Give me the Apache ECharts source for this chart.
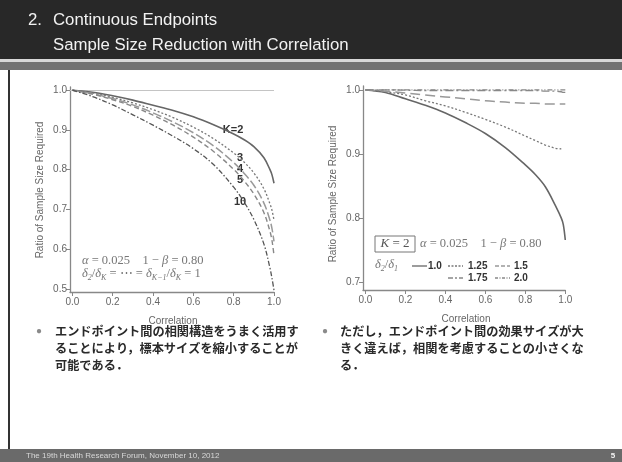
<!DOCTYPE html>
<html><head><meta charset="utf-8">
<script src="https://cdn.jsdelivr.net/npm/echarts@6/dist/echarts.min.js"></script>
<style>html,body{margin:0;padding:0;background:#fff}#c{width:622px;height:462px}</style>
</head><body><div id="c"></div>
<script>
// ---- Left chart: ratio of sample size vs correlation, by number of endpoints K
const corrLeft = [0, 0.1, 0.2, 0.3, 0.4, 0.5, 0.6, 0.7, 0.8, 0.85, 0.9, 0.95, 0.98, 0.99, 1.0];
const kNames = ['K=2', '3', '4', '5', '10'];
const k2  = [1, 0.995, 0.986, 0.975, 0.962, 0.949, 0.933, 0.913, 0.890, 0.876, 0.858, 0.830, 0.800, 0.787, 0.766];
const k3  = [1, 0.993, 0.982, 0.968, 0.951, 0.931, 0.907, 0.878, 0.842, 0.820, 0.792, 0.752, 0.714, 0.698, 0.673];
const k4  = [1, 0.991, 0.979, 0.963, 0.943, 0.920, 0.893, 0.860, 0.818, 0.792, 0.761, 0.716, 0.673, 0.652, 0.620];
const k5  = [1, 0.990, 0.976, 0.959, 0.937, 0.912, 0.882, 0.846, 0.801, 0.773, 0.739, 0.692, 0.645, 0.622, 0.585];
const k10 = [1, 0.984, 0.963, 0.938, 0.912, 0.884, 0.853, 0.813, 0.756, 0.720, 0.675, 0.613, 0.553, 0.527, 0.497];

// ---- Right chart: K=2, by effect size ratio delta2/delta1
const corrRight = [0, 0.1, 0.2, 0.3, 0.4, 0.5, 0.6, 0.7, 0.8, 0.85, 0.9, 0.95, 0.98, 0.99, 1.0];
const ratioNames = ['1.0', '1.25', '1.5', '1.75', '2.0'];
const d100 = [1, 0.996, 0.986, 0.976, 0.964, 0.949, 0.932, 0.910, 0.883, 0.868, 0.849, 0.820, 0.800, 0.790, 0.766];
const d125 = [1, 0.997, 0.992, 0.983, 0.975, 0.965, 0.954, 0.942, 0.928, 0.921, 0.914, 0.909, 0.908, null, null];
const d150 = [1, 0.998, 0.995, 0.992, 0.989, 0.986, 0.983, 0.981, 0.979, 0.979, 0.978, 0.978, 0.978, 0.978, 0.978];
const d175 = [1, 1, 0.9995, 0.999, 0.999, 0.999, 0.999, 0.999, 0.999, 0.999, 0.998, 0.998, 0.997, 0.996, 0.996];
const d200 = [1, 1, 1, 1, 1, 1, 1, 1, 1, 1, 1, 1, 1, 1, 1];

const xTicks = [0, 0.2, 0.4, 0.6, 0.8, 1.0];
const yTicksLeft = [0.5, 0.6, 0.7, 0.8, 0.9, 1.0];
const yTicksRight = [0.7, 0.8, 0.9, 1.0];

const leftSeries = [k2, k3, k4, k5, k10];
const rightSeries = [d100, d125, d150, d175, d200];

const leftStyles = [
  {color:'#666', width:1.6, type:'solid'},
  {color:'#777', width:1.3, type:[2,2]},
  {color:'#999', width:1.5, type:[9,3]},
  {color:'#888', width:1.4, type:[5,3]},
  {color:'#555', width:1.3, type:[5,2,1.5,2]}
];
const rightStyles = [
  {color:'#666', width:1.6, type:'solid'},
  {color:'#777', width:1.3, type:[2,2]},
  {color:'#999', width:1.5, type:[10,5]},
  {color:'#888', width:1.4, type:[8,3,2,3]},
  {color:'#888', width:1.4, type:[5,2,1,2,1,2]}
];
const legendDash = [null, [2,1.5], [4,2], [5,2,2,2], [3,1.5,1,1.5]];

function zip(xs, ys){ return xs.map((x,i)=>[x, ys[i]]); }

const axisCommon = {
  type:'value',
  axisLine:{show:true, onZero:false, lineStyle:{color:'#888', width:1.3}},
  axisTick:{show:true, length:4, lineStyle:{color:'#888'}},
  splitLine:{show:false},
  axisLabel:{color:'#666', fontSize:10, fontFamily:'"Liberation Sans", Arial', margin:3,
             formatter:v=>v.toFixed(1)}
};

function xAxis(gi){
  return Object.assign({}, axisCommon, {
    gridIndex:gi, min:-0.012, max:1.0,
    axisTick:Object.assign({}, axisCommon.axisTick, {customValues:xTicks}),
    axisLabel:Object.assign({}, axisCommon.axisLabel, {customValues:xTicks, margin:5})
  });
}
function yAxis(gi, min, max, ticks){
  return Object.assign({}, axisCommon, {
    gridIndex:gi, min:min, max:max,
    axisTick:Object.assign({}, axisCommon.axisTick, {customValues:ticks}),
    axisLabel:Object.assign({}, axisCommon.axisLabel, {customValues:ticks})
  });
}

const series = [];
leftSeries.forEach((d,i)=>{
  const s = {type:'line', name:kNames[i], xAxisIndex:0, yAxisIndex:0, data:zip(corrLeft,d),
    showSymbol:false, smooth:0.35, lineStyle:leftStyles[i], z:3};
  if(i===0){
    s.markLine = {silent:true, symbol:'none', label:{show:false},
      lineStyle:{color:'#c4c4c4', type:'solid', width:1}, data:[{yAxis:1}], z:1};
  }
  series.push(s);
});
rightSeries.forEach((d,i)=>{
  series.push({type:'line', name:ratioNames[i], xAxisIndex:1, yAxisIndex:1, data:zip(corrRight,d),
    showSymbol:false, smooth:0.35, connectNulls:false, lineStyle:rightStyles[i], z:3});
});

const sans = '"Liberation Sans", Arial, sans-serif';
const serif = '"Liberation Serif", "DejaVu Serif", serif';
const jp = '"Noto Sans CJK JP", sans-serif';

function txt(x,y,text,font,fill,align,extra){
  return Object.assign({type:'text', x:x, y:y, style:{text:text, font:font, fill:fill,
    align:align||'left', verticalAlign:'middle'}}, extra||{});
}

const mathRich = {
  g:{fontFamily:serif, fontStyle:'italic', fontSize:12.5, fill:'#777'},
  t:{fontFamily:serif, fontSize:12.5, fill:'#777'},
  s:{fontFamily:serif, fontStyle:'italic', fontSize:8, fill:'#777', padding:[7,0,0,0]}
};

const graphic = [
  // header
  {type:'rect', shape:{x:0,y:0,width:622,height:59}, style:{fill:'#282828'}},
  {type:'rect', shape:{x:0,y:59,width:622,height:3}, style:{fill:'#d8d8d8'}},
  {type:'rect', shape:{x:0,y:62,width:622,height:8}, style:{fill:'#727272'}},
  {type:'rect', shape:{x:8,y:70,width:2,height:380}, style:{fill:'#333'}},
  // footer
  {type:'rect', shape:{x:0,y:449,width:622,height:13}, style:{fill:'#6a6a6a'}},
  txt(26,456,'The 19th Health Research Forum, November 10, 2012','8px '+sans,'#d8d8d8'),
  txt(613,456,'5','bold 8px '+sans,'#f4f4f4','center'),
  // titles
  txt(28,20,'2.','16.8px '+sans,'#f2f2f2'),
  txt(53,20,'Continuous Endpoints','16.8px '+sans,'#f2f2f2'),
  txt(53,45,'Sample Size Reduction with Correlation','16.8px '+sans,'#f2f2f2'),
  // axis titles
  txt(40,190,'Ratio of Sample Size Required','10px '+sans,'#666','center',{rotation:Math.PI/2}),
  txt(333,194,'Ratio of Sample Size Required','10px '+sans,'#666','center',{rotation:Math.PI/2}),
  txt(173,321,'Correlation','10px '+sans,'#666','center'),
  txt(466,319,'Correlation','10px '+sans,'#666','center'),
  // curve labels
  txt(233,130,'K=2','bold 11px '+sans,'#333','center'),
  txt(240,158,'3','bold 11px '+sans,'#333','center'),
  txt(240,169,'4','bold 11px '+sans,'#333','center'),
  txt(240,180,'5','bold 11px '+sans,'#333','center'),
  txt(240,202,'10','bold 11px '+sans,'#333','center'),
  // left math annotation
  {type:'text', x:82, y:261, style:{text:'{g|α}{t| = 0.025    1 − }{g|β}{t| = 0.80}', rich:mathRich, verticalAlign:'middle'}},
  {type:'text', x:82, y:274, style:{text:'{g|δ}{s|2}{t|/}{g|δ}{s|K}{t| = ⋯ = }{g|δ}{s|K−1}{t|/}{g|δ}{s|K}{t| = 1}', rich:mathRich, verticalAlign:'middle'}},
  // right annotation
  {type:'rect', shape:{x:375,y:236,width:40,height:16}, style:{fill:'none', stroke:'#777', lineWidth:1}},
  {type:'text', x:395, y:244, style:{text:'{g|K}{t| = 2}', rich:{g:{fontFamily:serif,fontStyle:'italic',fontSize:13,fill:'#555'},t:{fontFamily:serif,fontSize:13,fill:'#555'}}, align:'center', verticalAlign:'middle'}},
  {type:'text', x:420, y:244, style:{text:'{g|α}{t| = 0.025    1 − }{g|β}{t| = 0.80}', rich:mathRich, verticalAlign:'middle'}},
  {type:'text', x:375, y:265, style:{text:'{g|δ}{s|2}{t|/}{g|δ}{s|1}', rich:mathRich, verticalAlign:'middle'}}
];

// right legend (line samples + labels)
const legPos = [[412,266,428],[448,266,468],[495,266,514],[448,278,468],[495,278,514]];
legPos.forEach((p,i)=>{
  graphic.push({type:'line', shape:{x1:p[0], y1:p[1], x2:p[0]+15, y2:p[1]},
    style:{stroke:rightStyles[i].color, lineWidth:1.3, lineDash:legendDash[i]}});
  graphic.push(txt(p[2], p[1], ratioNames[i], 'bold 10px '+sans, '#333'));
});

// bullets
const bulletLeft = ['エンドポイント間の相関構造をうまく活用す','ることにより，標本サイズを縮小することが','可能である．'];
const bulletRight = ['ただし，エンドポイント間の効果サイズが大','きく違えば，相関を考慮することの小さくな','る．'];
graphic.push(txt(39,331,'●','10px '+sans,'#8a8a8a','center'));
graphic.push(txt(325,331,'●','10px '+sans,'#8a8a8a','center'));
bulletLeft.forEach((t,i)=>graphic.push(txt(55,331+i*17,t,'bold 12.2px '+jp,'#2a2a2a')));
bulletRight.forEach((t,i)=>graphic.push(txt(340,331+i*17,t,'bold 12.2px '+jp,'#2a2a2a')));

const option = {
  animation:false,
  backgroundColor:'#fff',
  grid:[
    {left:70, top:87, width:204, height:205, containLabel:false},
    {left:363, top:86, width:202.3, height:204, containLabel:false}
  ],
  xAxis:[xAxis(0), xAxis(1)],
  yAxis:[yAxis(0,0.4925,1.008,yTicksLeft), yAxis(1,0.688,1.006,yTicksRight)],
  series:series,
  graphic:graphic
};
const chart = echarts.init(document.getElementById('c'), null, {renderer:'canvas'});
chart.setOption(option);
</script>
</body></html>
